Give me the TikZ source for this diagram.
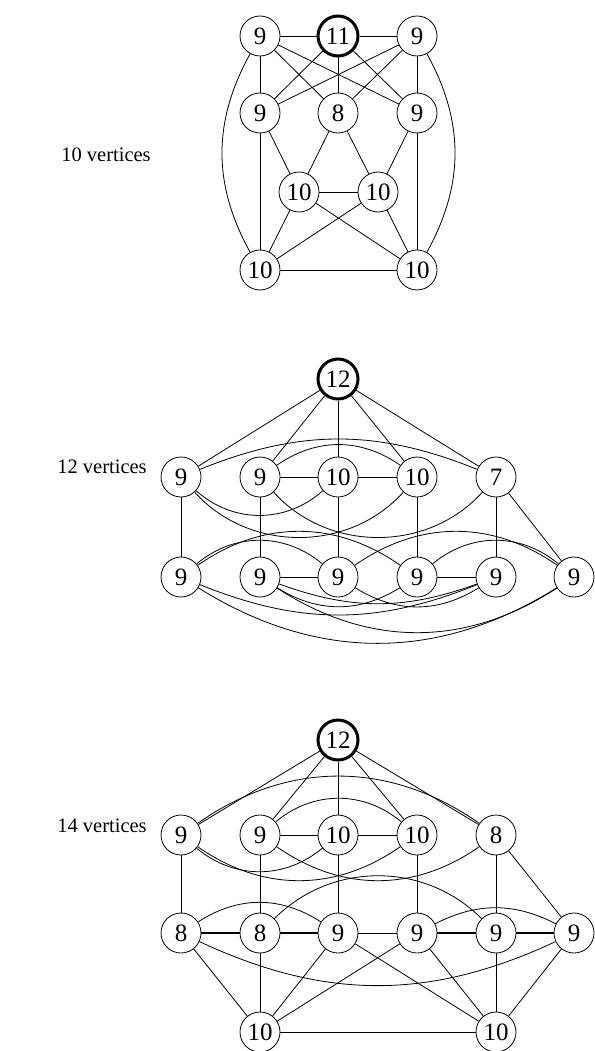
\documentclass[tikz,border=0pt]{standalone}
\usepackage{fontspec}
\setmainfont{Liberation Serif}
\begin{document}
\begin{tikzpicture}[x=1pt,y=-1pt,
  v/.style={circle, draw, line width=0.8pt, minimum size=40pt, inner sep=0pt, fill=white, font=\fontsize{25}{25}\selectfont},
  hv/.style={v, line width=3pt},
  e/.style={line width=0.8pt},
  te/.style={line width=2.4pt},
  lab/.style={font=\fontsize{20.5}{20.5}\selectfont}]
\useasboundingbox (0,0) rectangle (594,1051);

% ---------- 10 vertices ----------
\node[lab] (l10) at (106,155) {10 vertices};
\node[v] (tA) at (260,36) {9};
\node[hv] (tB) at (338,36) {11};
\node[v] (tC) at (417,36) {9};
\node[v] (tD) at (260,113) {9};
\node[v] (tE) at (338,113) {8};
\node[v] (tF) at (417,113) {9};
\node[v] (tG) at (299,192) {10};
\node[v] (tH) at (378,192) {10};
\node[v] (tI) at (260,270) {10};
\node[v] (tJ) at (417,270) {10};
\draw[e] (tA) -- (tB); \draw[e] (tB) -- (tC);
\draw[e] (tA) -- (tD); \draw[e] (tC) -- (tF); \draw[e] (tB) -- (tE);
\draw[e] (tA) -- (tE); \draw[e] (tA) -- (tF);
\draw[e] (tB) -- (tD); \draw[e] (tB) -- (tF);
\draw[e] (tC) -- (tD); \draw[e] (tC) -- (tE);
\draw[e] (tD) -- (tI); \draw[e] (tD) -- (tG);
\draw[e] (tE) -- (tG); \draw[e] (tE) -- (tH);
\draw[e] (tF) -- (tH); \draw[e] (tF) -- (tJ);
\draw[e] (tG) -- (tH); \draw[e] (tG) -- (tI); \draw[e] (tG) -- (tJ);
\draw[e] (tH) -- (tI); \draw[e] (tH) -- (tJ); \draw[e] (tI) -- (tJ);
\draw[e] (tA) to[bend right=29] (tI);
\draw[e] (tC) to[bend left=29] (tJ);

% ---------- 12 vertices ----------
\node[lab] (l12) at (102,467) {12 vertices};
\node[hv] (mT) at (338,379) {12};
\node[v] (mA) at (181,477) {9};
\node[v] (mB) at (260,477) {9};
\node[v] (mC) at (338,477) {10};
\node[v] (mD) at (417,477) {10};
\node[v] (mE) at (496,477) {7};
\node[v] (mP) at (181,577) {9};
\node[v] (mQ) at (260,577) {9};
\node[v] (mR) at (338,577) {9};
\node[v] (mS) at (417,577) {9};
\node[v] (mU) at (496,577) {9};
\node[v] (mW) at (574,577) {9};
\foreach \n in {mA,mB,mC,mD,mE} \draw[e] (mT) -- (\n);
\draw[e] (mB) -- (mC); \draw[e] (mC) -- (mD);
\draw[e] (mA) to[bend left=22] (mE);
\draw[e] (mB) to[bend left=35] (mD);
\draw[e] (mA) to[bend right=42] (mC);
\draw[e] (mA) to[bend right=48] (mD);
\draw[e] (mB) to[bend right=48] (mE);
\draw[e] (mA) -- (mP); \draw[e] (mB) -- (mQ); \draw[e] (mC) -- (mR);
\draw[e] (mD) -- (mS); \draw[e] (mE) -- (mU); \draw[e] (mE) -- (mW);
\draw[e] (mQ) -- (mR); \draw[e] (mS) -- (mU);
\draw[e] (mP) to[bend left=35] (mS);
\draw[e] (mP) to[bend left=40] (mR);
\draw[e] (mR) to[bend left=35] (mW);
\draw[e] (mS) to[bend left=40] (mW);
\draw[e] (mP) to[bend right=32] (mW);
\draw[e] (mP) to[bend right=22] (mU);
\draw[e] (mQ) to[bend right=33] (mW);
\draw[e] (mQ) to[bend right=20] (mU);
\draw[e] (mQ) to[bend right=32] (mS);
\draw[e] (mR) to[bend right=32] (mU);

% ---------- 14 vertices ----------
\node[lab] (l14) at (102,826) {14 vertices};
\node[hv] (bT) at (338,740) {12};
\node[v] (bA) at (181,835) {9};
\node[v] (bB) at (260,835) {9};
\node[v] (bC) at (338,835) {10};
\node[v] (bD) at (417,835) {10};
\node[v] (bE) at (496,835) {8};
\node[v] (bP) at (181,933) {8};
\node[v] (bQ) at (260,933) {8};
\node[v] (bR) at (338,933) {9};
\node[v] (bS) at (417,933) {9};
\node[v] (bU) at (496,933) {9};
\node[v] (bW) at (574,933) {9};
\node[v] (bX) at (260,1032) {10};
\node[v] (bY) at (496,1032) {10};
\foreach \n in {bA,bB,bC,bD,bE} \draw[e] (bT) -- (\n);
\draw[e] (bB) -- (bC); \draw[e] (bC) -- (bD);
\draw[e] (bA) to[bend left=35] (bE);
\draw[e] (bB) to[bend left=40] (bD);
\draw[e] (bA) to[bend right=40] (bC);
\draw[e] (bA) to[bend right=35] (bD);
\draw[e] (bB) to[bend right=35] (bE);
\draw[e] (bA) -- (bP); \draw[e] (bB) -- (bQ); \draw[e] (bC) -- (bR);
\draw[e] (bD) -- (bS); \draw[e] (bE) -- (bU); \draw[e] (bE) -- (bW);
\draw[te] (bP) -- (bQ); \draw[te] (bQ) -- (bR);
\draw[e] (bR) -- (bS);
\draw[te] (bS) -- (bU); \draw[te] (bU) -- (bW);
\draw[e] (bP) to[bend left=33] (bR);
\draw[e] (bQ) to[bend left=45] (bU);
\draw[e] (bS) to[bend left=27] (bW);
\draw[e] (bP) to[bend right=25] (bW);
\draw[e] (bP) -- (bX); \draw[e] (bQ) -- (bX); \draw[e] (bR) -- (bX); \draw[e] (bS) -- (bX);
\draw[e] (bR) -- (bY); \draw[e] (bS) -- (bY); \draw[e] (bU) -- (bY); \draw[e] (bW) -- (bY);
\draw[e] (bX) -- (bY);
\end{tikzpicture}
\end{document}
